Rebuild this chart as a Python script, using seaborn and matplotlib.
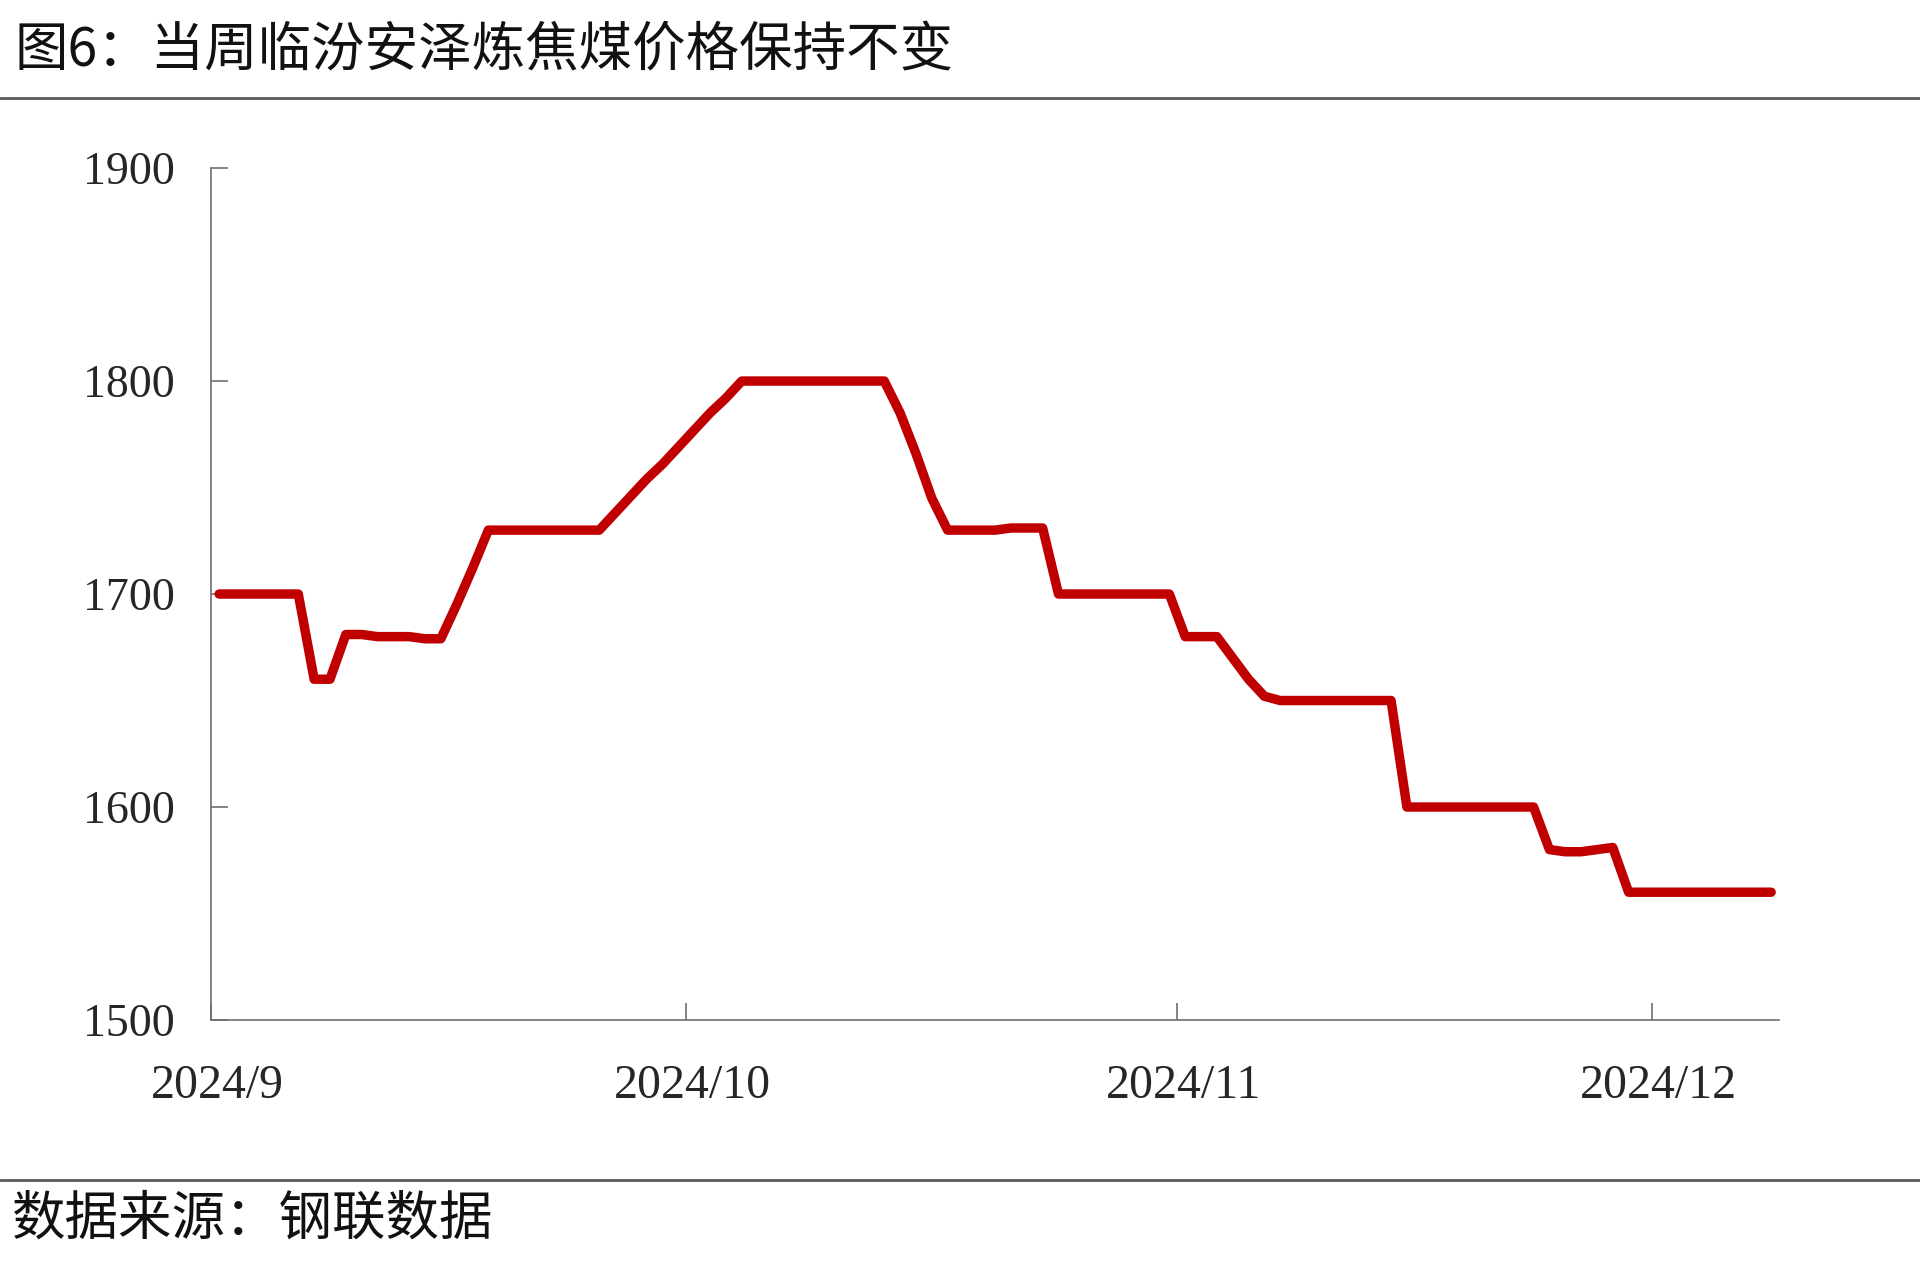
import matplotlib
matplotlib.use("Agg")
import matplotlib.pyplot as plt
import matplotlib.transforms as mtransforms
from matplotlib.lines import Line2D
import seaborn as sns
import pandas as pd

# ---- data (daily, 2024-09-01 .. 2024-12-08) ----
start_date = "2024-09-01 12:00"
prices = [
    1700, 1700, 1700, 1700, 1700, 1700,
    1660, 1660,
    1681, 1681, 1680, 1680, 1680, 1679,
    1679,
    1695, 1712, 1730,
    1730, 1730, 1730, 1730, 1730, 1730, 1730,
    1738, 1746, 1754, 1761, 1769, 1777, 1785, 1792, 1800,
    1800, 1800, 1800, 1800, 1800, 1800, 1800, 1800, 1800,
    1785, 1766, 1745, 1730,
    1730, 1730, 1730, 1731, 1731, 1731,
    1700,
    1700, 1700, 1700, 1700, 1700, 1700, 1700,
    1680, 1680, 1680,
    1670, 1660, 1652, 1650,
    1650, 1650, 1650, 1650, 1650, 1650, 1650,
    1600,
    1600, 1600, 1600, 1600, 1600, 1600, 1600, 1600,
    1580, 1579, 1579, 1580, 1581,
    1560,
    1560, 1560, 1560, 1560, 1560, 1560, 1560, 1560, 1560,
]
tick_dates = ["2024-09-01", "2024-10-01", "2024-11-01", "2024-12-01"]
tick_labels = ["2024/9", "2024/10", "2024/11", "2024/12"]
y_ticks = [1500, 1600, 1700, 1800, 1900]
title = "图6：当周临汾安泽炼焦煤价格保持不变"
source = "数据来源：钢联数据"

dates = pd.date_range(start_date, periods=len(prices), freq="D")
df = pd.DataFrame({"date": dates, "price": prices})

sns.set_style("white")
plt.rcParams["font.family"] = ["Liberation Serif", "DejaVu Sans"]

fig = plt.figure(figsize=(19.2, 12.79), dpi=100)
ax = fig.add_axes([0.110, 0.2025, 0.9266 - 0.110, 0.8686 - 0.2025])

sns.lineplot(data=df, x="date", y="price", ax=ax, color="#C00000",
             linewidth=6.8, solid_capstyle="round", solid_joinstyle="round")

ax.set_xlim(pd.Timestamp("2024-09-01"), pd.Timestamp("2024-12-09"))
ax.set_ylim(1500, 1900)
ax.set_xticks([pd.Timestamp(d) for d in tick_dates])
ax.set_xticklabels(tick_labels)
ax.set_yticks(y_ticks)
ax.set_yticklabels([str(v) for v in y_ticks])
ax.set_xlabel("")
ax.set_ylabel("")

for side in ["top", "right"]:
    ax.spines[side].set_visible(False)
for side in ["left", "bottom"]:
    ax.spines[side].set_color("#707070")
    ax.spines[side].set_linewidth(1.2)

ax.tick_params(axis="both", direction="in", length=12, width=1.2, color="#707070",
               labelcolor="#262626", bottom=True, left=True)
ax.tick_params(axis="y", pad=26, labelsize=33)
ax.tick_params(axis="x", pad=32, labelsize=34.5)
ax.grid(False)

offset = mtransforms.ScaledTranslation(6 / 100, 0, fig.dpi_scale_trans)
for lbl in ax.get_xticklabels():
    lbl.set_transform(lbl.get_transform() + offset)

cjk = ["Noto Sans CJK SC", "DejaVu Sans"]
fig.text(0.0078, 0.9605, title, fontsize=38.5, family=cjk, va="center", ha="left", color="#111111")
fig.text(0.006, 0.0465, source, fontsize=38.5, family=cjk, va="center", ha="left", color="#111111")

fig.add_artist(Line2D([0, 1], [0.9234, 0.9234], transform=fig.transFigure, color="#5a5a5a", linewidth=2))
fig.add_artist(Line2D([0, 1], [0.0774, 0.0774], transform=fig.transFigure, color="#5a5a5a", linewidth=2))

fig.savefig("out.png", dpi=100, facecolor="white")
